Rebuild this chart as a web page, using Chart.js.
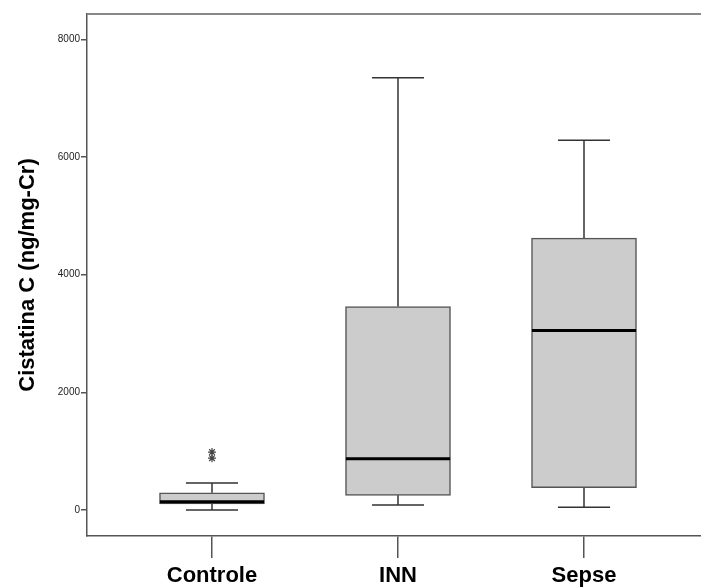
<!DOCTYPE html>
<html>
<head>
<meta charset="utf-8">
<script src="https://cdn.jsdelivr.net/npm/chart.js@4"></script>
<style>
  html, body { margin: 0; padding: 0; background: #fff; }
  #wrap { width: 701px; height: 588px; }
</style>
</head>
<body>
<div id="wrap"><canvas id="chart" width="701" height="588"></canvas></div>
<script>
// box plot values (ng/mg-Cr)
const categories = ["Controle", "INN", "Sepse"];
const whiskerLow = [0, 85, 46];
const q1 = [102, 249, 378];
const median = [141, 869, 3051];
const q3 = [293, 3458, 4622];
const whiskerHigh = [458, 7345, 6283];
// outliers of Controle
const outlierX = [0, 0];
const outlierY = [985, 880];
const yTicks = [0, 2000, 4000, 6000, 8000];

// whiskers, caps and medians drawn through the scales
const boxExtras = {
  id: "boxExtras",
  afterDatasetsDraw(chart) {
    const { ctx, scales: { x, y } } = chart;
    ctx.save();
    categories.forEach((c, i) => {
      const cx = x.getPixelForValue(i);
      // whiskers
      ctx.strokeStyle = "#333";
      ctx.lineWidth = 1.5;
      ctx.beginPath();
      ctx.moveTo(cx, y.getPixelForValue(q3[i]));
      ctx.lineTo(cx, y.getPixelForValue(whiskerHigh[i]));
      ctx.moveTo(cx, y.getPixelForValue(q1[i]));
      ctx.lineTo(cx, y.getPixelForValue(whiskerLow[i]));
      ctx.stroke();
      // caps
      const capL = x.getPixelForValue(i - 0.14);
      const capR = x.getPixelForValue(i + 0.14);
      ctx.beginPath();
      ctx.moveTo(capL, y.getPixelForValue(whiskerHigh[i]));
      ctx.lineTo(capR, y.getPixelForValue(whiskerHigh[i]));
      ctx.moveTo(capL, y.getPixelForValue(whiskerLow[i]));
      ctx.lineTo(capR, y.getPixelForValue(whiskerLow[i]));
      ctx.stroke();
      // median
      ctx.strokeStyle = "#000";
      ctx.lineWidth = 3;
      ctx.beginPath();
      ctx.moveTo(x.getPixelForValue(i - 0.28), y.getPixelForValue(median[i]));
      ctx.lineTo(x.getPixelForValue(i + 0.28), y.getPixelForValue(median[i]));
      ctx.stroke();
    });
    // top frame line
    const area = chart.chartArea;
    ctx.strokeStyle = "#888";
    ctx.lineWidth = 2;
    ctx.beginPath();
    ctx.moveTo(area.left, area.top);
    ctx.lineTo(chart.width, area.top);
    ctx.stroke();
    ctx.restore();
  }
};

const ctx = document.getElementById("chart").getContext("2d");
new Chart(ctx, {
  data: {
    datasets: [
      {
        type: "bar",
        data: categories.map((c, i) => ({ x: i, y: [q1[i], q3[i]] })),
        backgroundColor: "#cccccc",
        borderColor: "#555",
        borderWidth: 1.5,
        borderSkipped: false,
        barThickness: 105
      },
      {
        type: "scatter",
        data: outlierX.map((v, i) => ({ x: v, y: outlierY[i] })),
        pointStyle: "star",
        radius: 4,
        borderColor: "#444",
        borderWidth: 1.2,
        backgroundColor: "#444"
      }
    ]
  },
  options: {
    responsive: false,
    animation: false,
    layout: { autoPadding: false, padding: { top: 14, right: 0, left: 0, bottom: 0 } },
    plugins: { legend: { display: false }, tooltip: { enabled: false } },
    scales: {
      x: {
        type: "linear",
        offset: false,
        min: -0.672,
        max: 2.629,
        afterBuildTicks: (s) => { s.ticks = categories.map((c, i) => ({ value: i })); },
        afterFit: (s) => { s.height = 52; },
        ticks: {
          callback: (v) => categories[v],
          color: "#000",
          font: { family: "'Liberation Sans', Arial, sans-serif", size: 22, weight: "bold" },
          padding: 5,
          maxRotation: 0
        },
        grid: { offset: false, drawOnChartArea: false, drawTicks: true, tickLength: 22, color: "#555", lineWidth: 1.5 },
        border: { display: true, color: "#555", width: 1.5 }
      },
      y: {
        min: -442,
        max: 8430,
        afterBuildTicks: (s) => { s.ticks = yTicks.map((v) => ({ value: v })); },
        afterFit: (s) => { s.width = 87; },
        ticks: {
          callback: (v) => String(v),
          color: "#222",
          font: { family: "'Liberation Sans', Arial, sans-serif", size: 10 },
          padding: 1
        },
        grid: { drawOnChartArea: false, drawTicks: true, tickLength: 6, color: "#555", lineWidth: 1.5 },
        border: { display: true, color: "#555", width: 1.5 },
        title: {
          display: true,
          text: "Cistatina C (ng/mg-Cr)",
          color: "#000",
          font: { family: "'Liberation Sans', Arial, sans-serif", size: 22, weight: "bold" },
          padding: { top: 15, bottom: 4 }
        }
      }
    }
  },
  plugins: [boxExtras]
});
</script>
</body>
</html>
